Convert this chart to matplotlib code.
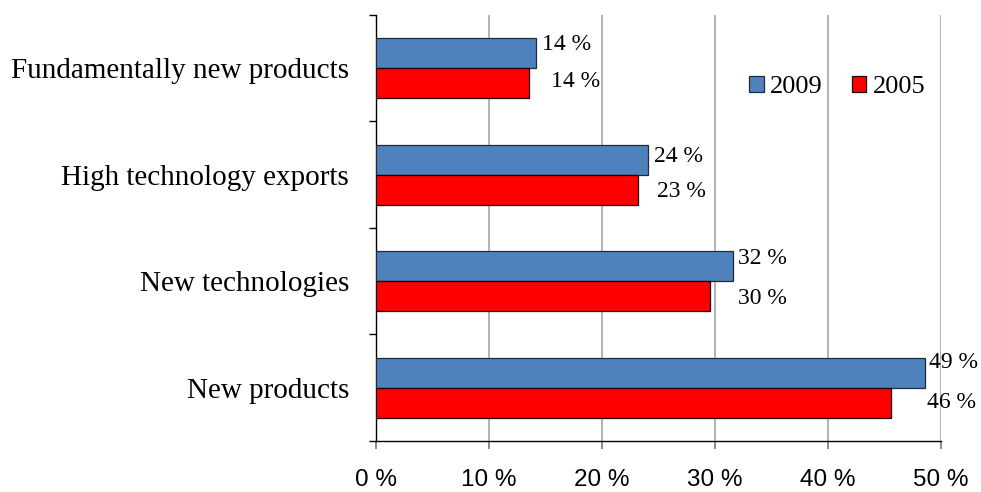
import matplotlib.pyplot as plt
import numpy as np
from matplotlib.patches import Patch

# Share of enterprises by innovation type, 2009 vs 2005
categories = ["Fundamentally new products", "High technology exports",
              "New technologies", "New products"]
share_2009 = [14.2, 24.1, 31.6, 48.6]
share_2005 = [13.6, 23.2, 29.6, 45.6]
xticks = [0, 10, 20, 30, 40, 50]

BLUE = "#4F81BD"
RED = "#FF0000"
GRID = "#B3B3B3"
SERIF = "Liberation Serif"
SANS = "Liberation Sans"

# hand-tuned label nudges in pixels (dx, dy)
nudge_2009 = [(6, 9), (6, 3), (5, 8), (4, 10)]
nudge_2005 = [(22, 2), (19, -2), (28, -2), (36, 0)]

fig = plt.figure(figsize=(9.81, 4.92), dpi=100)
ax = fig.add_axes([0.3828, 0.1037, 0.9589 - 0.3828, 0.9695 - 0.1037])

y = np.arange(len(categories))
h = 0.28
ax.barh(y - h / 2, share_2009, height=h, color=BLUE,
        edgecolor="#1F2A3A", linewidth=0.9, label="2009", zorder=3)
ax.barh(y + h / 2, share_2005, height=h, color=RED,
        edgecolor="#200000", linewidth=0.9, label="2005", zorder=3)

px = 0.72  # pixels -> points at 100 dpi
for vals, ys, nudges in ((share_2009, y - h / 2, nudge_2009),
                         (share_2005, y + h / 2, nudge_2005)):
    for v, yy, (dx, dy) in zip(vals, ys, nudges):
        ax.annotate(f"{v:.0f} %", xy=(v, yy), xytext=(dx * px, dy * px),
                    textcoords="offset points", ha="left", va="center",
                    fontsize=17, family=SERIF, color="black")

ax.set_xlim(0, 50)
ax.set_ylim(3.5, -0.5)
ax.set_xticks(xticks)
ax.set_xticklabels([f"{t} %" for t in xticks], family=SANS, fontsize=17.5)
ax.tick_params(axis="x", direction="out", length=5.8, width=1.3,
               color="#808080", pad=14.5)

# category ticks sit between groups, labels at group centres
ax.set_yticks(np.arange(-0.5, len(categories), 1.0))
ax.set_yticklabels([])
ax.set_yticks(y, minor=True)
ax.set_yticklabels(categories, minor=True, family=SERIF, fontsize=21)
ax.tick_params(axis="y", which="major", direction="out", length=5,
               width=1, color="black")
ax.tick_params(axis="y", which="minor", length=0, pad=19)

ax.grid(axis="x", color=GRID, linewidth=1.4, zorder=0)
for side in ("top", "right"):
    ax.spines[side].set_visible(False)
ax.spines["left"].set_linewidth(1)
ax.spines["bottom"].set_linewidth(1)

handles = [Patch(facecolor=BLUE, edgecolor="#1F2A3A", linewidth=0.9),
           Patch(facecolor=RED, edgecolor="#200000", linewidth=0.9)]
ax.legend(handles, ["2009", "2005"], ncol=2, frameon=False,
          loc="center left", bbox_to_anchor=(749 / 981, 1 - 87 / 492),
          bbox_transform=fig.transFigure,
          prop={"family": SERIF, "size": 19},
          handlelength=0.55, handleheight=0.55, handletextpad=0.25,
          columnspacing=1.1, borderpad=0, borderaxespad=0)

fig.savefig("out.png", dpi=100)
